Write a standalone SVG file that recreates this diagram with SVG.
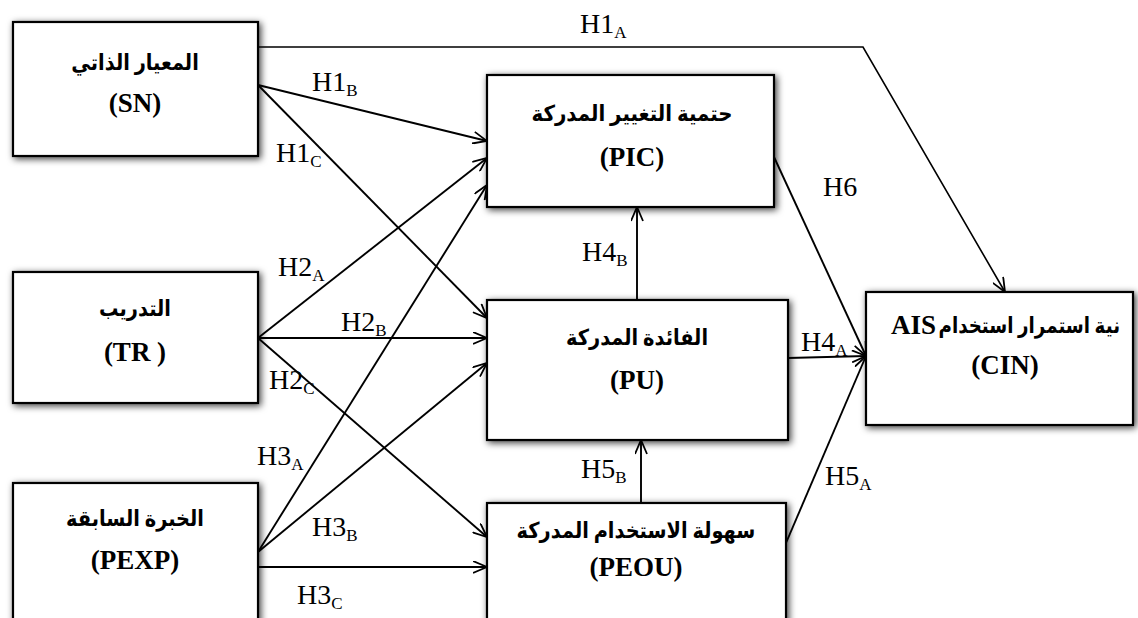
<svg xmlns="http://www.w3.org/2000/svg" width="1138" height="618" viewBox="0 0 1138 618">
  <style>
    .box { fill: #ffffff; stroke: #000000; stroke-width: 2.2; filter: url(#shadow); }
    .ar { font-family: "Liberation Serif", "DejaVu Sans", serif; font-size: 22px; font-weight: bold; text-anchor: middle; fill: #000; }
    .en { font-family: "Liberation Serif", serif; font-size: 27px; font-weight: bold; text-anchor: middle; fill: #000; }
    .lbl { font-family: "Liberation Serif", serif; font-size: 28px; fill: #000; }
    .sub { font-size: 17px; }
    .link { fill: none; stroke: #000000; stroke-width: 1.9; marker-end: url(#arrow); }
  </style>
  <defs>
    <filter id="shadow" x="-10%" y="-15%" width="125%" height="135%">
      <feDropShadow dx="2" dy="2" stdDeviation="3.5" flood-color="#000000" flood-opacity="0.75"/>
    </filter>
    <marker id="arrow" viewBox="0 0 15 13" refX="14.5" refY="6.5" markerWidth="15" markerHeight="13" markerUnits="userSpaceOnUse" orient="auto">
      <path d="M0.5,0.5 L14.5,6.5 L0.5,12.5" fill="none" stroke="#000000" stroke-width="1.8"/>
    </marker>
  </defs>
  <rect width="1138" height="618" fill="#ffffff"/>

  <!-- constructs; Arabic titles are narrowed horizontally to the bold face's width -->
  <g id="node-sn">
    <rect class="box" x="13" y="22" width="245" height="134"/>
    <g transform="translate(135,70) scale(0.88,1)"><text class="ar" x="0" y="0">المعيار الذاتي</text></g>
    <text class="en" x="135" y="112">(SN)</text>
  </g>
  <g id="node-tr">
    <rect class="box" x="13" y="272" width="245" height="131"/>
    <g transform="translate(135,316) scale(0.88,1)"><text class="ar" x="0" y="0">التدريب</text></g>
    <text class="en" x="135" y="361">(TR )</text>
  </g>
  <g id="node-pexp">
    <rect class="box" x="13" y="483" width="245" height="150"/>
    <g transform="translate(135,526) scale(0.88,1)"><text class="ar" x="0" y="0">الخبرة السابقة</text></g>
    <text class="en" x="135" y="569">(PEXP)</text>
  </g>
  <g id="node-pic">
    <rect class="box" x="487" y="75" width="287" height="132"/>
    <g transform="translate(632,121) scale(0.9,1)"><text class="ar" x="0" y="0">حتمية التغيير المدركة</text></g>
    <text class="en" x="632" y="166">(PIC)</text>
  </g>
  <g id="node-pu">
    <rect class="box" x="487" y="300" width="301" height="140"/>
    <g transform="translate(637,345) scale(0.88,1)"><text class="ar" x="0" y="0">الفائدة المدركة</text></g>
    <text class="en" x="637" y="389">(PU)</text>
  </g>
  <g id="node-peou">
    <rect class="box" x="487" y="503" width="299" height="130"/>
    <g transform="translate(636,538) scale(0.88,1)"><text class="ar" x="0" y="0">سهولة الاستخدام المدركة</text></g>
    <text class="en" x="636" y="576">(PEOU)</text>
  </g>
  <g id="node-cin">
    <rect class="box" x="866" y="292" width="267" height="133"/>
    <text class="en" x="891" y="334" style="text-anchor:start">AIS</text>
    <g transform="translate(1120,333) scale(0.83,1)"><text class="ar" x="0" y="0" style="text-anchor:end">نية استمرار استخدام</text></g>
    <text class="en" x="1005" y="374">(CIN)</text>
  </g>

  <!-- hypothesised paths -->
  <g id="connectors">
    <polyline class="link" points="258,47 863,47 1005,292" style="stroke-width:1.6"/>
    <line class="link" x1="258" y1="85" x2="487" y2="141"/>
    <line class="link" x1="258" y1="85" x2="487" y2="318"/>
    <line class="link" x1="258" y1="338" x2="487" y2="158"/>
    <line class="link" x1="258" y1="338" x2="487" y2="338"/>
    <line class="link" x1="258" y1="338" x2="487" y2="537"/>
    <line class="link" x1="258" y1="552" x2="487" y2="185"/>
    <line class="link" x1="258" y1="552" x2="487" y2="363"/>
    <line class="link" x1="258" y1="567" x2="487" y2="567"/>
    <line class="link" x1="637" y1="300" x2="637" y2="207"/>
    <line class="link" x1="641" y1="503" x2="641" y2="440"/>
    <line class="link" x1="774" y1="157" x2="866" y2="356"/>
    <line class="link" x1="788" y1="358" x2="866" y2="356"/>
    <line class="link" x1="786" y1="543" x2="866" y2="356"/>
  </g>

  <!-- path labels -->
  <g id="labels">
    <text class="lbl" x="580" y="33">H1<tspan class="sub" dy="5">A</tspan></text>
    <text class="lbl" x="312" y="91">H1<tspan class="sub" dy="5">B</tspan></text>
    <text class="lbl" x="276" y="162">H1<tspan class="sub" dy="5">C</tspan></text>
    <text class="lbl" x="278" y="276">H2<tspan class="sub" dy="5">A</tspan></text>
    <text class="lbl" x="341" y="331">H2<tspan class="sub" dy="5">B</tspan></text>
    <text class="lbl" x="269" y="389">H2<tspan class="sub" dy="5">C</tspan></text>
    <text class="lbl" x="257" y="465">H3<tspan class="sub" dy="5">A</tspan></text>
    <text class="lbl" x="312" y="536">H3<tspan class="sub" dy="5">B</tspan></text>
    <text class="lbl" x="297" y="604">H3<tspan class="sub" dy="5">C</tspan></text>
    <text class="lbl" x="582" y="261">H4<tspan class="sub" dy="5">B</tspan></text>
    <text class="lbl" x="581" y="478">H5<tspan class="sub" dy="5">B</tspan></text>
    <text class="lbl" x="823" y="196">H6</text>
    <text class="lbl" x="801" y="351">H4<tspan class="sub" dy="5">A</tspan></text>
    <text class="lbl" x="825" y="485">H5<tspan class="sub" dy="5">A</tspan></text>
  </g>
</svg>
